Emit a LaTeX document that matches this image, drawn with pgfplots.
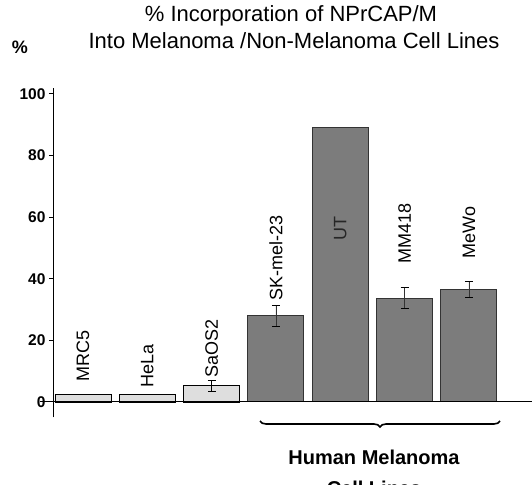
\documentclass[border=0pt]{standalone}
\usepackage{pgfplots}
\pgfplotsset{compat=1.18}
\usepackage{fontspec}
\setmainfont{Liberation Sans}
\usetikzlibrary{decorations.pathreplacing}
\definecolor{lightbar}{HTML}{DEDEDE}
\definecolor{darkbar}{HTML}{7C7C7C}
\newcommand{\fs}[1]{\fontsize{#1}{#1}\selectfont}
\begin{document}
\begin{tikzpicture}
\begin{axis}[
  scale only axis, width=478pt, height=329.6pt,
  xmin=0.55, xmax=7.98, ymin=-5, ymax=102,
  axis y line=left, axis x line=none,
  axis line style={-, line width=1pt},
  ytick={0,20,...,100}, xtick=\empty,
  tick align=outside, major tick length=5pt,
  tick style={line width=1pt, black},
  yticklabel style={font=\bfseries\fs{15.5}, /pgf/number format/assume math mode=true},
  ybar, bar width=0.87, bar shift=0pt,
  clip=false,
  err/.style={error bars/.cd, y dir=both, y explicit,
    error mark options={rotate=90, mark size=4pt, line width=0.6pt}},
]
\addplot[fill=lightbar, draw=black, line width=0.8pt, err]
  coordinates {(1,2.5) (2,2.5) (3,5.4) +- (0,1.8)};
\addplot[fill=darkbar, draw=black!80, line width=1pt, err]
  coordinates {(4,28) +- (0,3.5) (6,33.7) +- (0,3.4) (7,36.5) +- (0,2.6)};
\addplot[fill=darkbar, draw=black!80, line width=1pt]
  coordinates {(5,89)};
\draw[line width=1pt] (axis cs:0.33,0) -- (axis cs:7.98,0);
% bar labels
\begin{scope}[every node/.style={font=\fs{18}, rotate=90, anchor=west, inner sep=0pt}]
\node at (axis cs:1,6.5) {MRC5};
\node at (axis cs:2,4.5) {HeLa};
\node at (axis cs:3,7.8) {SaOS2};
\node at (axis cs:4,33) {SK-mel-23};
\node at (axis cs:6,45) {MM418};
\node at (axis cs:7,46.5) {MeWo};
\node[text=black!85] at (axis cs:5,52.5) {UT};
\end{scope}
\end{axis}
% page laid out in reference pixels: (px,py) -> (px-54, 417.4-py)
\begin{scope}[x=1pt, y=1pt, shift={(-54pt,-66.6pt)}]
\node[font=\fs{22}] at (291,468) {\% Incorporation of NPrCAP/M};
\node[font=\fs{22}] at (294,443) {Into Melanoma /Non-Melanoma Cell Lines};
\node[font=\bfseries\fs{18}] at (20,437) {\%};
\draw[decorate, decoration={brace, mirror, amplitude=6pt}, line width=1.6pt] (260,63) -- (500,63);
\node[font=\bfseries\fs{20}] at (374,27) {Human Melanoma};
\node[font=\bfseries\fs{20}] at (374,-4) {Cell Lines};
\pgfresetboundingbox
\path[use as bounding box] (0,0) rectangle (532,484);
\end{scope}
\end{tikzpicture}
\end{document}
